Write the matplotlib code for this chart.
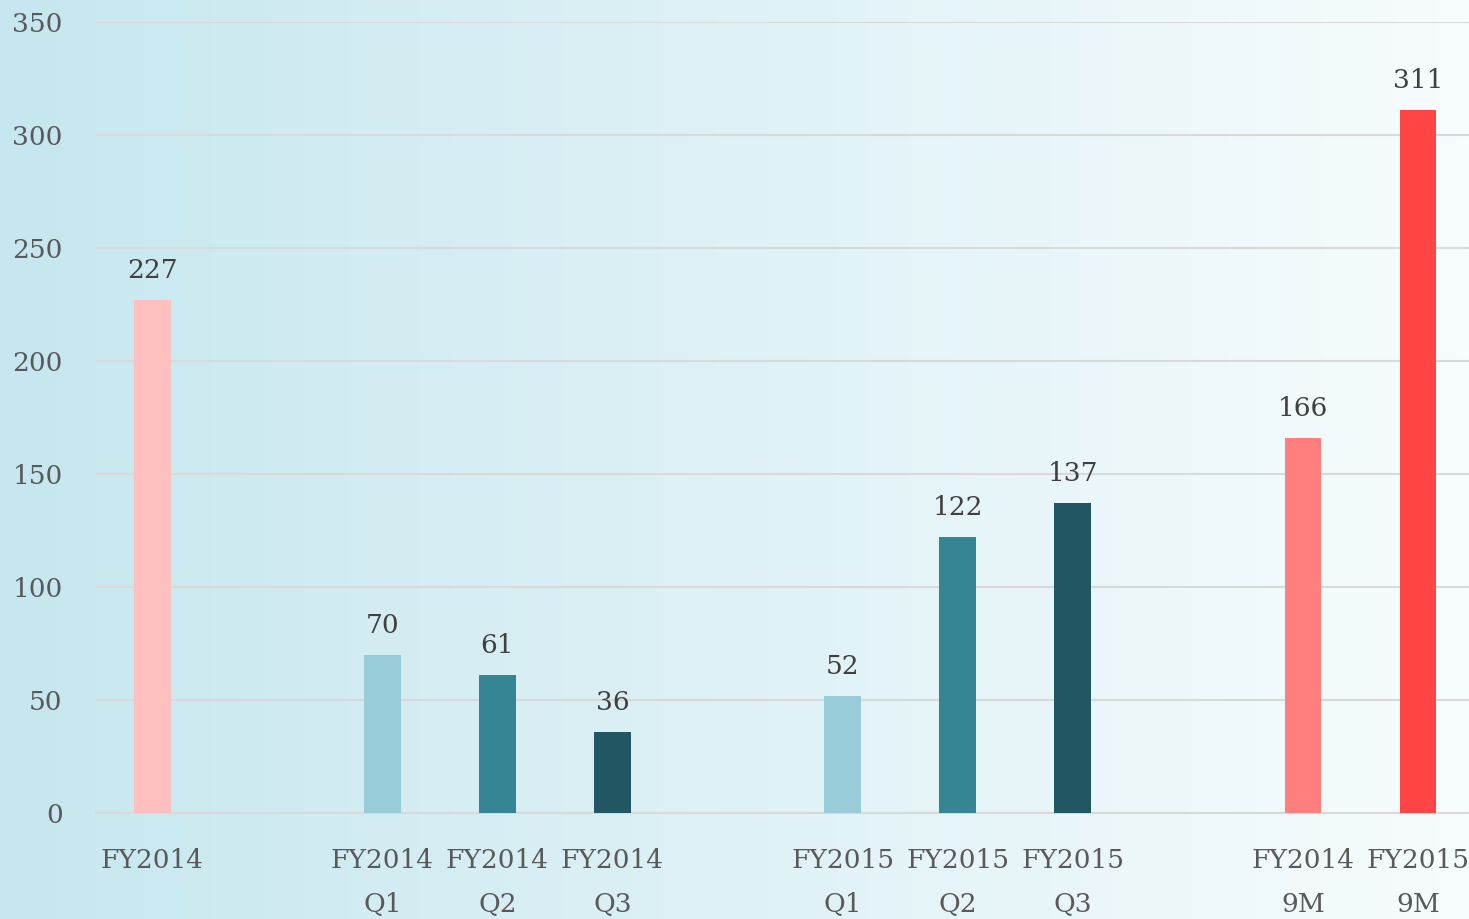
import numpy as np
import matplotlib
matplotlib.use("Agg")
import matplotlib.pyplot as plt

# empty strings are spacer slots between the groups
categories = ["FY2014", "", "FY2014\nQ1", "FY2014\nQ2", "FY2014\nQ3", "",
              "FY2015\nQ1", "FY2015\nQ2", "FY2015\nQ3", "",
              "FY2014\n9M", "FY2015\n9M"]
values = [227, np.nan, 70, 61, 36, np.nan, 52, 122, 137, np.nan, 166, 311]
colors = ["#FFBFBF", "none", "#97CCD8", "#368595", "#215763", "none",
          "#97CCD8", "#368595", "#215763", "none", "#FF7F7F", "#FF4545"]

plt.rcParams["font.family"] = ["DejaVu Serif"]

fig = plt.figure(figsize=(14.69, 9.19), dpi=100)

# gradient background
bg = fig.add_axes([0, 0, 1, 1])
grad = np.linspace(0, 1, 256).reshape(1, -1)
cmap = matplotlib.colors.LinearSegmentedColormap.from_list("bg", ["#C6E7EF", "#F7FCFD"])
bg.imshow(grad, aspect="auto", cmap=cmap, extent=[0, 1, 0, 1])
bg.set_axis_off()

ax = fig.add_axes([0.0654, 0.1153, 1 - 0.0654, 0.976 - 0.1153])
ax.set_facecolor("none")

x = np.arange(len(categories))
ax.bar(x, values, width=0.32, color=colors, zorder=3)

for xi, v in zip(x, values):
    if not np.isnan(v):
        ax.text(xi, v + 7.5, f"{v:.0f}", ha="center", va="bottom",
                fontsize=19, color="#404040")

ax.set_xlim(-0.487, 11.443)
ax.set_ylim(0, 350)
ax.set_yticks(range(0, 351, 50))
ax.yaxis.grid(True, color="#D9D9D9", linewidth=1.5, zorder=0)
ax.set_axisbelow(True)

ax.set_xticks(x)
ax.set_xticklabels(categories, fontsize=19, color="#595959", linespacing=1.95)
ax.tick_params(axis="x", length=0, pad=25)
ax.tick_params(axis="y", length=0, pad=24, labelsize=19, labelcolor="#595959")

for side in ["top", "right", "left"]:
    ax.spines[side].set_visible(False)
ax.spines["bottom"].set_color("#D9D9D9")
ax.spines["bottom"].set_linewidth(1.5)

fig.savefig("out.png", dpi=100)
